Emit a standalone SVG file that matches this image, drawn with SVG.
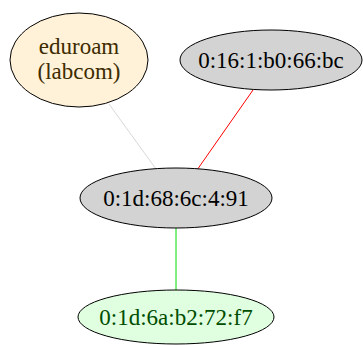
<svg xmlns="http://www.w3.org/2000/svg" width="363" height="345" viewBox="0 0 363 345">
<style>
.n{stroke:#000;stroke-width:1}
.t{font-family:"Liberation Serif","Times New Roman",serif;font-size:23px;text-anchor:middle}
.e{fill:none;stroke-width:1}
</style>
<rect width="363" height="345" fill="#fff"/>
<g id="edges">
<line class="e" x1="109" y1="104" x2="156" y2="169" stroke="#d8d8d8"/>
<line class="e" x1="253" y1="90" x2="197" y2="170" stroke="#ff0000"/>
<line class="e" x1="176" y1="228" x2="176" y2="290" stroke="#00dd00"/>
</g>
<g id="eduroam">
<ellipse class="n" cx="79" cy="60" rx="69" ry="47" fill="#fff2d8"/>
<text class="t" x="79" y="54" fill="#3d2b00">eduroam</text>
<text class="t" x="79" y="79" fill="#3d2b00">(labcom)</text>
</g>
<g id="n016">
<ellipse class="n" cx="271" cy="60" rx="91" ry="30" fill="#d3d3d3"/>
<text class="t" x="271" y="68" fill="#000">0:16:1:b0:66:bc</text>
</g>
<g id="n1d68">
<ellipse class="n" cx="176" cy="198" rx="96" ry="30" fill="#d3d3d3"/>
<text class="t" x="176" y="206" fill="#000">0:1d:68:6c:4:91</text>
</g>
<g id="n1d6a">
<ellipse class="n" cx="176" cy="317" rx="98" ry="27" fill="#e0ffe0"/>
<text class="t" x="176" y="325" fill="#004d00">0:1d:6a:b2:72:f7</text>
</g>
</svg>
